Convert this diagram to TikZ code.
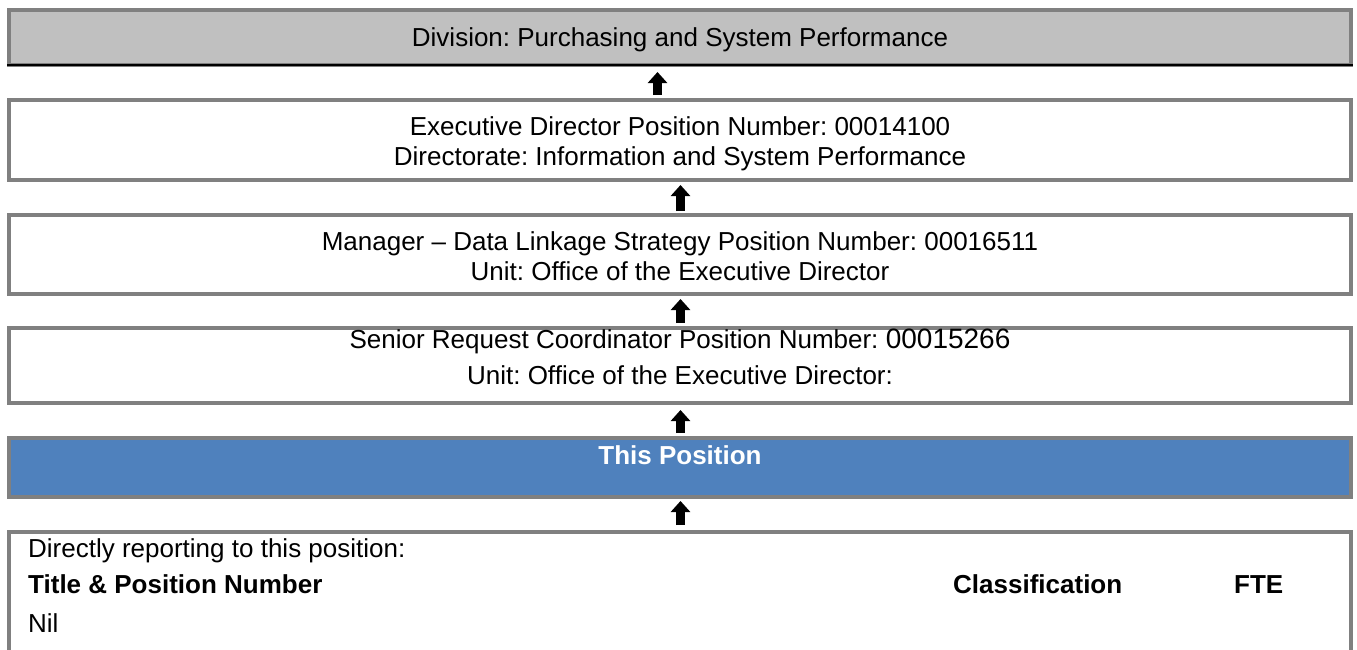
\documentclass[tikz,border=0pt]{standalone}
\usepackage{fontspec}
\setmainfont{Liberation Sans}
\usetikzlibrary{arrows.meta}
\definecolor{framegray}{HTML}{808080}
\definecolor{headgray}{HTML}{C0C0C0}
\definecolor{posblue}{HTML}{4F81BD}
\begin{document}
\frenchspacing
\begin{tikzpicture}[x=1pt,y=-1pt,
  box/.style={draw=framegray, line width=4pt, fill=white, minimum width=1342pt,
    inner sep=0pt, outer sep=0pt},
  txt/.style={anchor=base, inner sep=0pt, font=\fontsize{26}{30}\selectfont},
  cell/.style={anchor=base west, inner sep=0pt, font=\fontsize{26}{30}\selectfont},
  bcell/.style={cell, font=\fontsize{26}{30}\selectfont\bfseries},
  uparrow/.style={line width=9pt, -{Triangle[width=19pt,length=11pt]}}]
\useasboundingbox (0,0) rectangle (1357,649);
\clip (0,0) rectangle (1357,649);

% frames of the reporting chain, top to bottom
\node[box, fill=headgray, minimum height=55pt] (div) at (680,37.5) {};
\draw[line width=2pt] ([xshift=-2pt,yshift=0.5pt]div.south west) -- ([xshift=2pt,yshift=0.5pt]div.south east);
\node[box, minimum height=80pt] (exec) at (680,140) {};
\node[box, minimum height=79pt] (mgr) at (680,254.5) {};
\node[box, minimum height=75pt] (src) at (680,365.5) {};
\node[box, fill=posblue, minimum height=59pt] (pos) at (680,467.5) {};
\node[box, minimum height=160pt, anchor=north] (reports) at (680,532) {};

% titles inside the frames
\node[txt] (divname) at (680,46.5) {Division: Purchasing and System Performance};
\node[txt] (execa) at (680,135) {Executive Director Position Number: 00014100};
\node[txt] (execb) at (680,165) {Directorate: Information and System Performance};
\node[txt] (mgra) at (680,250) {Manager – Data Linkage Strategy Position Number: 00016511};
\node[txt] (mgrb) at (680,280) {Unit: Office of the Executive Director};
\node[txt] (srca) at (680,348) {Senior Request Coordinator Position Number: {\fontsize{28}{30}\selectfont 00015266}};
\node[txt] (srcb) at (680,384) {Unit: Office of the Executive Director:};
\node[txt, text=white, font=\fontsize{26}{30}\selectfont\bfseries] (postitle) at (680,464) {This Position};

% contents of the reports frame
\node[cell] (r1) at (28,557) {Directly reporting to this position:};
\node[bcell] (r2) at (28,593) {Title \& Position Number};
\node[bcell] (r3) at (953,593) {Classification};
\node[bcell] (r4) at (1234,593) {FTE};
\node[cell] (r5) at (28,632) {Nil};

% upward arrows between levels
\draw[uparrow, shorten <=5pt, shorten >=7pt] ([xshift=-22.5pt]exec.north) -- ([xshift=-22.5pt]div.south);
\draw[uparrow, shorten <=4pt, shorten >=5pt] ([xshift=0.5pt]mgr.north) -- ([xshift=0.5pt]exec.south);
\draw[uparrow, shorten <=5pt, shorten >=5pt] ([xshift=0.5pt]src.north) -- ([xshift=0.5pt]mgr.south);
\draw[uparrow, shorten <=5pt, shorten >=7pt] ([xshift=0.5pt]pos.north) -- ([xshift=0.5pt]src.south);
\draw[uparrow, shorten <=7pt, shorten >=4pt] ([xshift=0.5pt]reports.north) -- ([xshift=0.5pt]pos.south);
\end{tikzpicture}
\end{document}
